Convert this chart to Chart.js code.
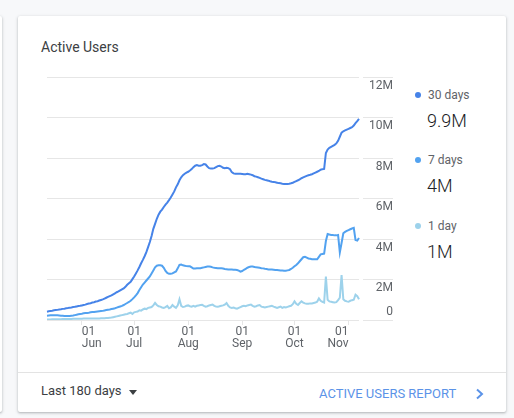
<!DOCTYPE html>
<html>
<head>
<meta charset="utf-8">
<script src="https://cdn.jsdelivr.net/npm/chart.js@4.4.0/dist/chart.umd.min.js"></script>
<style>
  html, body { margin:0; padding:0; }
  body { width:514px; height:418px; background:#f7f8fa; position:relative; overflow:hidden; font-family: Roboto, "Noto Sans", sans-serif; }
  .card { position:absolute; background:#fff; border-radius:2px;
          box-shadow: 0 1px 2px rgba(60,64,67,.25), 0 1px 3px 1px rgba(60,64,67,.10); }
  .abs { position:absolute; white-space:nowrap; }
</style>
</head>
<body>
<div class="card" style="left:-20px; top:16px; width:22px; height:396px;"></div>
<div class="card" style="left:18px; top:16px; width:488px; height:396px;"></div>

<div class="abs" style="left:41px; top:39px; font-size:14px; line-height:16px; color:#3c4043;">Active Users</div>

<div id="wrap" class="abs" style="left:41px; top:66px; width:360px; height:300px;">
  <canvas id="c"></canvas>
</div>

<div id="legend"></div>

<div class="abs" style="left:18px; top:372px; width:488px; height:1px; background:#e3e3e3;"></div>
<div class="abs" style="left:41px; top:383px; font-size:13px; line-height:16px; color:#3c4043;">Last 180 days</div>
<div class="abs" style="left:128.5px; top:389.5px; width:0; height:0; border-left:4.5px solid transparent; border-right:4.5px solid transparent; border-top:5px solid #3c4043;"></div>
<div class="abs" style="left:319px; top:385.5px; font-size:13px; line-height:15px; color:#5b93e8;">ACTIVE USERS REPORT</div>
<svg class="abs" style="left:474px; top:387px;" width="12" height="14" viewBox="0 0 12 14">
  <polyline points="3,2.5 8,7 3,11.5" fill="none" stroke="#5b93e8" stroke-width="2"/>
</svg>

<script>
// ---- data ----
const startDate = [2019, 4, 12]; // May 12 (month index 4)
const seriesNames = ['30 days', '7 days', '1 day'];
const legendValues = ['9.9M', '4M', '1M'];
const seriesColors = ['#4683e8', '#52a2f0', '#9dd2eb'];

const days30 = [
  0.41,0.43,0.45,0.46,0.48,0.49,0.50,0.52,0.53,0.55,
  0.56,0.58,0.59,0.61,0.62,0.64,0.65,0.67,0.69,0.70,
  0.72,0.74,0.76,0.79,0.81,0.83,0.86,0.88,0.91,0.93,
  0.96,0.99,1.02,1.06,1.10,1.14,1.18,1.22,1.27,1.32,
  1.37,1.41,1.46,1.51,1.56,1.64,1.74,1.82,1.89,2.02,
  2.15,2.30,2.45,2.62,2.80,2.97,3.15,3.35,3.60,3.85,
  4.15,4.50,4.75,5.00,5.20,5.35,5.45,5.58,5.70,5.80,
  5.92,6.05,6.20,6.35,6.55,6.70,6.90,7.05,7.15,7.22,
  7.28,7.32,7.38,7.45,7.55,7.62,7.65,7.62,7.62,7.65,
  7.70,7.68,7.58,7.50,7.48,7.48,7.50,7.55,7.60,7.62,
  7.58,7.52,7.50,7.52,7.50,7.45,7.30,7.24,7.22,7.22,
  7.22,7.22,7.21,7.20,7.20,7.22,7.20,7.18,7.15,7.10,
  7.08,7.05,7.02,6.98,6.95,6.92,6.90,6.88,6.85,6.83,
  6.82,6.80,6.78,6.76,6.75,6.73,6.72,6.72,6.72,6.73,
  6.75,6.78,6.82,6.86,6.90,6.95,7.00,7.04,7.08,7.12,
  7.15,7.17,7.20,7.24,7.28,7.32,7.36,7.42,7.45,7.46,
  8.25,8.42,8.50,8.55,8.60,8.65,8.72,8.85,9.05,9.25,
  9.32,9.36,9.40,9.44,9.48,9.52,9.60,9.72,9.82,9.93
];
const days7 = [
  0.21,0.22,0.23,0.23,0.24,0.24,0.23,0.22,0.21,0.21,
  0.20,0.20,0.20,0.20,0.21,0.22,0.24,0.26,0.28,0.30,
  0.31,0.33,0.34,0.35,0.36,0.38,0.39,0.40,0.41,0.42,
  0.43,0.44,0.45,0.47,0.49,0.51,0.52,0.54,0.56,0.58,
  0.61,0.64,0.67,0.70,0.74,0.79,0.84,0.89,0.95,1.03,
  1.12,1.22,1.33,1.48,1.62,1.75,1.85,1.95,2.05,2.15,
  2.30,2.45,2.60,2.68,2.70,2.70,2.68,2.58,2.42,2.32,
  2.28,2.28,2.30,2.35,2.40,2.55,2.72,2.74,2.70,2.68,
  2.66,2.65,2.65,2.60,2.54,2.54,2.55,2.55,2.56,2.58,
  2.60,2.62,2.64,2.64,2.63,2.60,2.58,2.57,2.56,2.56,
  2.55,2.54,2.52,2.51,2.50,2.50,2.49,2.48,2.48,2.47,
  2.44,2.39,2.42,2.48,2.53,2.58,2.62,2.64,2.64,2.62,
  2.60,2.59,2.58,2.56,2.55,2.53,2.52,2.50,2.50,2.49,
  2.48,2.47,2.47,2.46,2.45,2.44,2.43,2.43,2.45,2.47,
  2.52,2.58,2.65,2.72,2.80,2.90,3.00,3.10,3.12,3.08,
  3.04,3.02,3.00,3.00,3.00,3.00,3.12,3.24,3.26,3.28,
  3.90,4.25,4.22,4.20,4.20,4.18,4.18,4.20,3.34,3.80,
  4.28,4.35,4.40,4.44,4.48,4.52,4.55,3.95,3.92,4.05
];
const days1 = [
  0.03,0.03,0.03,0.04,0.04,0.04,0.04,0.04,0.04,0.05,
  0.05,0.05,0.05,0.05,0.05,0.06,0.06,0.06,0.06,0.06,
  0.06,0.07,0.07,0.07,0.07,0.07,0.08,0.08,0.08,0.08,
  0.08,0.09,0.09,0.09,0.10,0.10,0.11,0.12,0.14,0.16,
  0.18,0.20,0.22,0.24,0.26,0.28,0.30,0.33,0.36,0.30,
  0.38,0.40,0.42,0.48,0.46,0.52,0.56,0.54,0.60,0.62,
  0.64,0.72,0.84,0.74,0.68,0.66,0.62,0.60,0.64,0.70,
  0.58,0.62,0.74,0.66,0.60,0.72,1.02,0.70,0.64,0.66,
  0.70,0.72,0.68,0.66,0.70,0.66,0.70,0.72,0.74,0.75,
  0.70,0.66,0.68,0.72,0.74,0.76,0.70,0.66,0.65,0.68,
  0.70,0.72,0.76,0.84,0.70,0.62,0.60,0.62,0.58,0.56,
  0.60,0.64,0.68,0.70,0.68,0.72,0.74,0.76,0.70,0.66,
  0.68,0.72,0.74,0.66,0.64,0.62,0.64,0.66,0.68,0.70,
  0.66,0.63,0.60,0.63,0.66,0.60,0.64,0.62,0.65,0.68,
  0.70,0.78,0.92,0.80,0.74,0.84,0.92,0.86,0.82,0.80,
  0.80,0.82,0.82,0.84,0.86,0.90,1.07,0.95,0.90,0.86,
  2.14,1.00,0.92,0.90,0.88,0.86,0.88,0.98,1.10,2.22,
  1.02,0.95,0.92,0.90,0.95,0.98,1.00,1.25,1.18,1.02
];
const yTicks = [0, 2, 4, 6, 8, 10, 12]; // millions
const monthNames = ['Jan','Feb','Mar','Apr','May','Jun','Jul','Aug','Sep','Oct','Nov','Dec'];

// categories: one per day
const categories = [];
for (let i = 0; i < days30.length; i++) {
  const d = new Date(startDate[0], startDate[1], startDate[2] + i);
  categories.push({ day: d.getDate(), month: d.getMonth() });
}
const catLabels = categories.map(c => String(c.day).padStart(2, '0') + ' ' + monthNames[c.month]);

// legend (HTML)
const legend = document.getElementById('legend');
seriesNames.forEach((name, i) => {
  const top = 95 + i * 65.3;
  legend.insertAdjacentHTML('beforeend',
    `<div class="abs" style="left:415px; top:${top - 3}px; width:6px; height:6px; border-radius:50%; background:${seriesColors[i]};"></div>` +
    `<div class="abs" style="left:428px; top:${top - 7}px; font-size:12px; line-height:14px; color:#5f6368;">${name}</div>` +
    `<div class="abs" style="left:427px; top:${top + 15}px; font-size:18px; line-height:22px; font-weight:300; color:#202124;">${legendValues[i]}</div>`);
});

const gridColor = '#e6e6e6';
const seriesData = [days30, days7, days1];

new Chart(document.getElementById('c'), {
  type: 'line',
  data: {
    labels: catLabels,
    datasets: seriesNames.map((n, i) => ({
      label: n,
      data: seriesData[i].map(v => v * 1e6),
      borderColor: seriesColors[i],
      backgroundColor: seriesColors[i],
      borderWidth: 2,
      pointRadius: 0,
      tension: 0,
      fill: false
    }))
  },
  options: {
    responsive: true,
    maintainAspectRatio: false,
    animation: false,
    layout: { padding: { left: 6, top: 11, right: 8, bottom: 0 } },
    plugins: { legend: { display: false }, tooltip: { enabled: false } },
    scales: {
      x: {
        type: 'category',
        offset: false,
        afterBuildTicks: (scale) => {
          scale.ticks = scale.ticks.filter(t => categories[t.value].day === 1);
        },
        afterFit: (scale) => { scale.height = 46; scale.paddingLeft = 0; scale.paddingRight = 0; },
        border: { display: false },
        grid: { drawOnChartArea: false, drawTicks: true, tickLength: 5, color: gridColor, tickColor: gridColor },
        ticks: {
          autoSkip: false,
          maxRotation: 0,
          align: 'inner',
          padding: 1,
          color: '#5f6368',
          font: { family: 'Roboto', size: 12, lineHeight: 1 },
          callback: function (value) {
            const c = categories[value];
            return [String(c.day).padStart(2, '0'), monthNames[c.month]];
          }
        }
      },
      y: {
        position: 'right',
        min: 0,
        max: 12e6,
        afterBuildTicks: (scale) => { scale.ticks = yTicks.map(v => ({ value: v * 1e6 })); },
        afterFit: (scale) => { scale.width = 34; scale.paddingTop = 0; scale.paddingBottom = 0; },
        border: { display: false },
        grid: { color: gridColor, tickColor: gridColor, drawTicks: true, tickLength: 34, tickBorderDash: [0, 4, 30, 0] },
        ticks: {
          mirror: true,
          padding: 34,
          color: '#5f6368',
          font: { family: 'Roboto', size: 12, lineHeight: '17px' },
          callback: (v) => v === 0 ? ['0', ''] : ['', (v / 1e6) + 'M']
        }
      }
    }
  }
});
</script>
</body>
</html>
